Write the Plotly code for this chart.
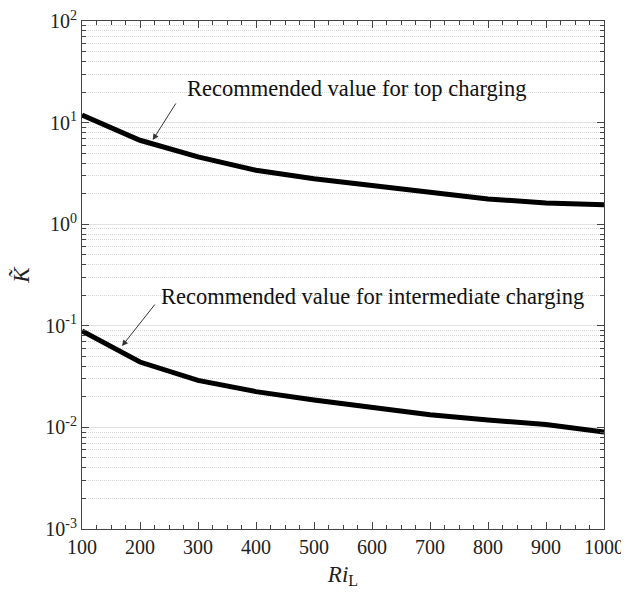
import plotly.graph_objects as go

ri = [100, 200, 300, 400, 500, 600, 700, 800, 900, 1000]
k_top = [11.9, 6.7, 4.6, 3.4, 2.8, 2.4, 2.03, 1.77, 1.62, 1.55]
k_inter = [0.089, 0.044, 0.029, 0.0225, 0.0186, 0.0158, 0.0133, 0.0118, 0.0107, 0.0090]

ytick_vals = [1e-3, 1e-2, 1e-1, 1e0, 1e1, 1e2]
ytick_text = ["10<sup>-3</sup>", "10<sup>-2</sup>", "10<sup>-1</sup>", "10<sup>0</sup>", "10<sup>1</sup>", "10<sup>2</sup>"]
xtick_vals = [100, 200, 300, 400, 500, 600, 700, 800, 900, 1000]

minor_y = [m * d for d in [1e-3, 1e-2, 1e-1, 1e0, 1e1] for m in range(2, 10)]

FONT = "Liberation Serif"

fig = go.Figure()
fig.add_trace(go.Scatter(x=ri, y=k_top, mode="lines", line=dict(color="black", width=5), showlegend=False))
fig.add_trace(go.Scatter(x=ri, y=k_inter, mode="lines", line=dict(color="black", width=5), showlegend=False))

# page body has an 8px margin, so the figure is sized to fit inside the window
fig.update_layout(
    width=621, height=590,
    margin=dict(l=74, r=25, t=13, b=69),
    paper_bgcolor="white", plot_bgcolor="white",
    font=dict(family=FONT, size=20, color="#222"),
    xaxis=dict(
        range=[100, 1000], tickvals=xtick_vals, ticks="inside", ticklen=7, tickcolor="#444",
        showline=True, linecolor="#444", linewidth=1, mirror="ticks", showgrid=False, zeroline=False,
        automargin=False, ticklabeloverflow="allow",
        minor=dict(dtick=25, tick0=100, ticks="inside", ticklen=4, tickcolor="#444", showgrid=False),
        title=dict(text="<i>Ri</i><sub>L</sub>", font=dict(size=23), standoff=8),
        tickfont=dict(size=20),
    ),
    yaxis=dict(
        type="log", range=[-3, 2], tickvals=ytick_vals, ticktext=ytick_text,
        ticks="inside", ticklen=7, tickcolor="#444",
        showline=True, linecolor="#444", linewidth=1, mirror="ticks",
        showgrid=True, gridcolor="#e2e2e2", gridwidth=1, zeroline=False,
        automargin=False, ticklabeloverflow="allow",
        minor=dict(tickvals=minor_y, ticks="inside", ticklen=4, tickcolor="#444",
                   showgrid=True, gridcolor="#d6d6d6", griddash="1px,1px", gridwidth=1),
        title=dict(text="<i>K̃</i>", font=dict(size=23), standoff=14),
        tickfont=dict(size=20),
    ),
)

fig.add_annotation(x=278, y=1.34, xref="x", yref="y", text="Recommended value for top charging",
                   showarrow=False, xanchor="left", yanchor="middle", font=dict(family=FONT, size=22.5, color="#111"))
fig.add_annotation(x=222, y=0.829, xref="x", yref="y", text="", showarrow=True,
                   arrowhead=2, arrowsize=1.2, arrowwidth=1, arrowcolor="#333", ax=24, ay=-38)
fig.add_annotation(x=232, y=-0.707, xref="x", yref="y", text="Recommended value for intermediate charging",
                   showarrow=False, xanchor="left", yanchor="middle", font=dict(family=FONT, size=22.5, color="#111"))
fig.add_annotation(x=169, y=-1.199, xref="x", yref="y", text="", showarrow=True,
                   arrowhead=2, arrowsize=1.2, arrowwidth=1, arrowcolor="#333", ax=34, ay=-43)

fig.write_html("out.html")
